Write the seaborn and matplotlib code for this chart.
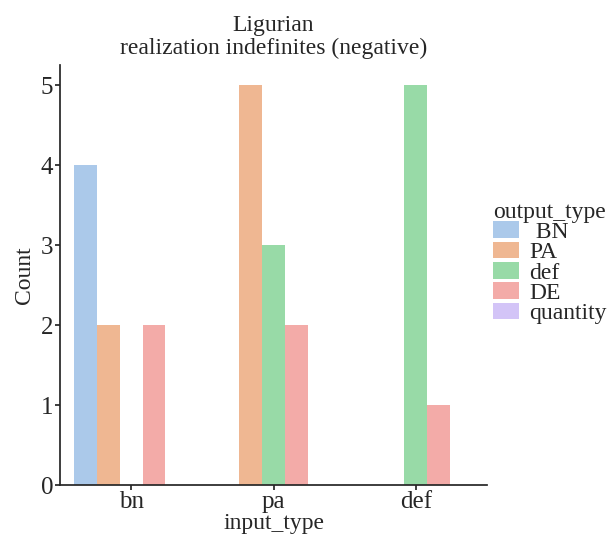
import matplotlib
matplotlib.use("Agg")
import matplotlib.pyplot as plt
import seaborn as sns
import pandas as pd

input_types = ["bn", "pa", "def"]
output_types = [" BN", "PA", "def", "DE", "quantity"]
counts_bn = [4, 2, 0, 2, 0]
counts_pa = [0, 5, 3, 2, 0]
counts_def = [0, 0, 5, 1, 0]

rows = []
for inp, cnts in zip(input_types, [counts_bn, counts_pa, counts_def]):
    for out, c in zip(output_types, cnts):
        rows += [{"input_type": inp, "output_type": out}] * c
df = pd.DataFrame(rows)

sns.set_theme(style="ticks", palette="pastel")
plt.rcParams["font.family"] = ["Liberation Serif", "DejaVu Serif"]

fs = 17
fig = plt.figure(figsize=(6.14, 5.34), dpi=100)
ax = fig.add_axes([60/614, 1-485/534, (487-60)/614, (485-65)/534])
sns.countplot(data=df, x="input_type", hue="output_type", order=input_types,
              hue_order=output_types, palette="pastel", linewidth=0, ax=ax)
sns.despine(ax=ax)
ax.set_title("Ligurian\nrealization indefinites (negative)", fontsize=fs, linespacing=1.1, pad=8)
ax.set_xlabel("input_type", fontsize=fs)
ax.xaxis.set_label_coords(0.5, -0.066)
ax.set_ylabel("Count", fontsize=fs, labelpad=4)
ax.tick_params(labelsize=18, pad=1.5, length=3.5)
ax.tick_params(axis="x", pad=0.5)
ax.set_ylim(0, 5.25)
ax.set_yticks(range(6))
h, l = ax.get_legend_handles_labels()
ax.legend_.remove()
leg = fig.legend(h, l, title="output_type", loc="center left", bbox_to_anchor=(493/614, 1-263/534),
           frameon=False, fontsize=fs, title_fontsize=fs, handlelength=1.1,
           labelspacing=-0.05, handletextpad=0.45, borderaxespad=0, borderpad=0)
leg._legend_box.align = "left"
fig.savefig("out.png", dpi=100)
